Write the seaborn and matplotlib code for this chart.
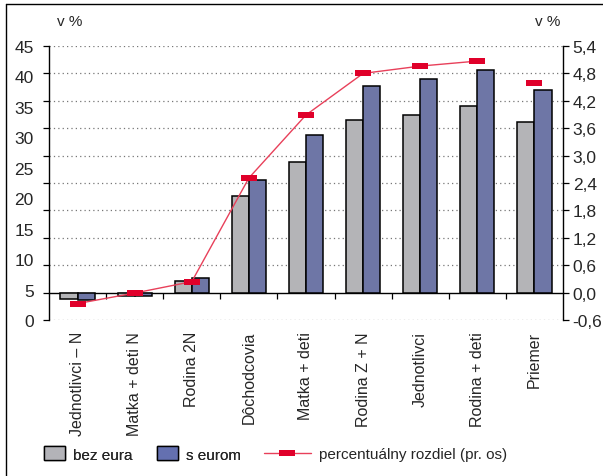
import numpy as np
import pandas as pd
import matplotlib
matplotlib.use("Agg")
import matplotlib.pyplot as plt
import seaborn as sns
from matplotlib.path import Path
from matplotlib.lines import Line2D
from matplotlib.patches import Patch
from matplotlib.ticker import FuncFormatter

# --- data -------------------------------------------------------------
categories = ["Jednotlivci – N", "Matka + deti N", "Rodina 2N", "Dôchodcovia",
              "Matka + deti", "Rodina Z + N", "Jednotlivci", "Rodina + deti", "Priemer"]
bez_eura = [-0.13, -0.065, 0.26, 2.12, 2.87, 3.78, 3.89, 4.09, 3.73]
s_eurom = [-0.16, -0.08, 0.31, 2.47, 3.45, 4.52, 4.67, 4.87, 4.44]
rozdiel = [-0.24, -0.01, 0.24, 2.51, 3.89, 4.80, 4.96, 5.07, 4.60]
# the average is shown as a lone marker, not joined to the line
rozdiel_skupina = [0, 0, 0, 0, 0, 0, 0, 0, 1]

series_names = ["bez eura", "s eurom"]
left_ticks = [0, 5, 10, 15, 20, 25, 30, 35, 40, 45]
right_ticks = [-0.6, 0.0, 0.6, 1.2, 1.8, 2.4, 3.0, 3.6, 4.2, 4.8, 5.4]

GRAY = "#b3b3b8"
BLUE = "#6470b0"
RED = "#e0002a"
LINE_RED = "#e8405a"

sns.set_theme(style="white")
plt.rcParams["font.family"] = ["Liberation Sans Narrow", "Liberation Sans", "DejaVu Sans"]
plt.rcParams["font.size"] = 11

bars = pd.DataFrame({
    "kategoria": categories * 2,
    "hodnota": bez_eura + s_eurom,
    "rad": [series_names[0]] * len(categories) + [series_names[1]] * len(categories),
})
line = pd.DataFrame({"kategoria": categories, "rozdiel": rozdiel, "skupina": rozdiel_skupina})

fig = plt.figure(figsize=(6.03, 4.77), dpi=100)
ax = fig.add_axes([49 / 603, 1 - 321 / 477, (563 - 49) / 603, (321 - 47) / 477])

sns.barplot(data=bars, x="kategoria", y="hodnota", hue="rad", order=categories,
            hue_order=series_names, palette=[GRAY, BLUE], width=0.6, errorbar=None,
            edgecolor="black", linewidth=1.1, legend=False, ax=ax, zorder=3)

ylo, yhi = right_ticks[0], right_ticks[-1]
ax.set_ylim(ylo, yhi)
ax.set_xlim(-0.5, len(categories) - 0.5)
ax.set_xlabel("")
ax.set_ylabel("")

# dotted grid at every right-axis step
for t in right_ticks:
    if t != 0.0:
        ax.axhline(t, color="#777777", lw=0.9, ls=(0, (1, 2.5)), zorder=1)

ax.set_yticks(right_ticks)
ax.tick_params(axis="y", which="major", left=True, right=False, labelleft=False,
               direction="out", length=4.3, width=0.9, color="black")
ax.set_xticks(range(len(categories)))
ax.set_xticklabels(categories, rotation=90, va="top", ha="center")
ax.tick_params(axis="x", length=0, pad=8, labelsize=11.5)
for side in ["top", "right", "bottom"]:
    ax.spines[side].set_visible(False)
ax.spines["left"].set_color("black")
ax.spines["left"].set_linewidth(1.0)

# zero baseline with category separators
base = ax.secondary_xaxis((0 - ylo) / (yhi - ylo))
base.set_xticks(np.arange(0.5, len(categories) - 1, 1.0))
base.set_xticklabels([])
base.tick_params(direction="out", length=4.5, width=0.9, color="black")
base.spines["bottom"].set_color("black")
base.spines["bottom"].set_linewidth(1.0)

# right axis: percentage difference
ax2 = ax.twinx()
rect = Path([(-1, -0.42), (1, -0.42), (1, 0.42), (-1, 0.42), (-1, -0.42)],
            [Path.MOVETO, Path.LINETO, Path.LINETO, Path.LINETO, Path.CLOSEPOLY])
sns.lineplot(data=line, x="kategoria", y="rozdiel", units="skupina", estimator=None,
             sort=False, color=LINE_RED, lw=1.0, marker=rect, markersize=11.5,
             markerfacecolor=RED, markeredgewidth=0, ax=ax2, legend=False, zorder=5)
ax2.set_ylim(ylo, yhi)
ax2.set_yticks(right_ticks)
ax2.yaxis.set_major_formatter(FuncFormatter(lambda v, p: f"{v:.1f}".replace(".", ",")))
ax2.tick_params(axis="y", right=True, direction="out", length=4, width=0.9,
                color="black", pad=3, labelsize=12.5)
ax2.set_ylabel("")
ax2.set_xlabel("")
for side in ["top", "left", "bottom"]:
    ax2.spines[side].set_visible(False)
ax2.spines["right"].set_color("black")
ax2.spines["right"].set_linewidth(1.0)

# left axis labels
ax3 = ax.twinx()
ax3.set_ylim(left_ticks[0], left_ticks[-1])
ax3.yaxis.set_ticks_position("left")
ax3.set_yticks(left_ticks)
ax3.set_yticklabels([str(t) for t in left_ticks])
ax3.tick_params(axis="y", left=True, right=False, labelleft=True, labelright=False,
                length=0, pad=11, labelsize=12.5)
for side in ["top", "left", "bottom", "right"]:
    ax3.spines[side].set_visible(False)

fig.text(70 / 603, 1 - 22 / 477, "v %", ha="center", va="center", fontsize=11)
fig.text(548 / 603, 1 - 22 / 477, "v %", ha="center", va="center", fontsize=11)

# legend
patch_handles = [Patch(facecolor=GRAY, edgecolor="black", lw=1.0),
                 Patch(facecolor=BLUE, edgecolor="black", lw=1.0)]
leg1 = fig.legend(patch_handles, series_names, loc="center left",
                  bbox_to_anchor=(30 / 603, 1 - 455 / 477), ncol=2, frameon=False,
                  handlelength=1.4, handleheight=1.0, handletextpad=0.5,
                  columnspacing=1.6, fontsize=11)
line_handle = Line2D([], [], color=LINE_RED, lw=1.0, marker=rect, markersize=11.5,
                     markerfacecolor=RED, markeredgewidth=0)
fig.legend([line_handle], ["percentuálny rozdiel (pr. os)"], loc="center left",
           bbox_to_anchor=(250 / 603, 1 - 455 / 477), frameon=False,
           handlelength=3.1, handletextpad=0.5, fontsize=11)
fig.add_artist(leg1)

# frame lines along the top and left edges
fig.add_artist(Line2D([6 / 603, 6 / 603], [0, 1 - 5 / 477], color="black", lw=1.0))
fig.add_artist(Line2D([6 / 603, 1], [1 - 5 / 477, 1 - 5 / 477], color="black", lw=1.0))

fig.savefig("out.png", dpi=100)
